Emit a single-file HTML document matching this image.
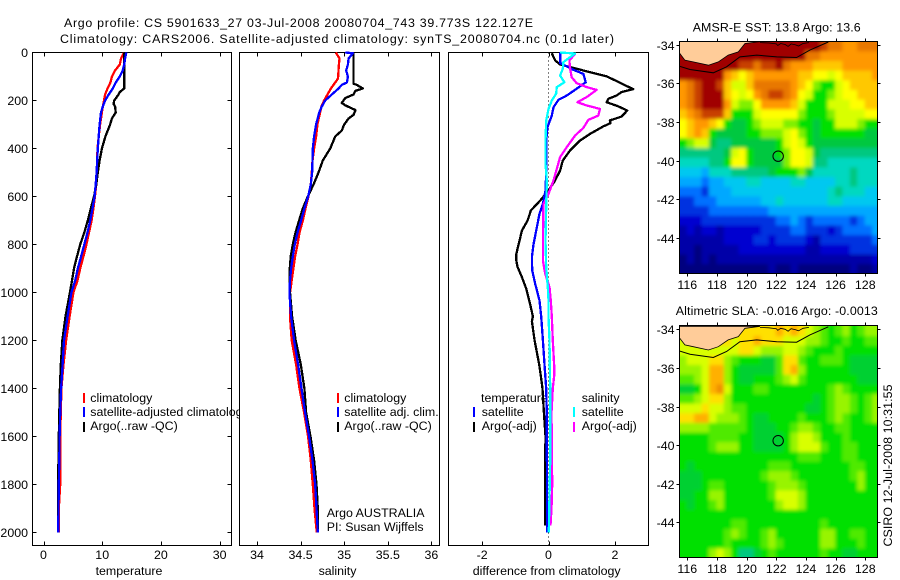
<!DOCTYPE html>
<html lang="en">
<head>
<meta charset="utf-8">
<title>Argo profile 5901633_27</title>
<style>
html,body{margin:0;padding:0;background:#fff;}
svg{display:block;}
text{font-family:"Liberation Sans",Arial,sans-serif;font-size:12.4px;fill:#000;}
.axis-box{fill:#fff;stroke:#000;stroke-width:1;shape-rendering:crispEdges;}
.tick{stroke:#000;stroke-width:1;shape-rendering:crispEdges;}
.swatch{stroke-width:2;shape-rendering:crispEdges;}
.profile{fill:none;stroke-width:2.3;stroke-linejoin:round;shape-rendering:crispEdges;}
</style>
</head>
<body>
<svg id="chart" xmlns="http://www.w3.org/2000/svg" width="900" height="580" viewBox="0 0 900 580">
  <defs>
    <filter id="soft" x="-5%" y="-5%" width="110%" height="110%"><feGaussianBlur stdDeviation="1.9"/></filter>
    <clipPath id="clip-sst"><rect x="679.5" y="41.5" width="198" height="232"/></clipPath>
    <clipPath id="clip-sla"><rect x="679.5" y="325.5" width="198" height="232"/></clipPath>
  </defs>
  <rect width="900" height="580" fill="#fff"/>

  <text x="64" y="27" textLength="469" lengthAdjust="spacing">Argo profile: CS 5901633_27 03-Jul-2008 20080704_743 39.773S 122.127E</text>
  <text x="60" y="43" textLength="554" lengthAdjust="spacing">Climatology: CARS2006. Satellite-adjusted climatology: synTS_20080704.nc (0.1d later)</text>

  <g id="panel-temp">
    <rect class="axis-box" x="32.5" y="52.5" width="199" height="493"/>
    <g id="temp-layer"></g>
    <g>
      <line class="swatch" x1="84" x2="84" y1="393" y2="403" stroke="#f00"/>
      <text x="90.3" y="402">climatology</text>
      <line class="swatch" x1="84" x2="84" y1="407" y2="417" stroke="#00f"/>
      <text x="90.3" y="416">satellite-adjusted climatology</text>
      <line class="swatch" x1="84" x2="84" y1="422" y2="432" stroke="#000"/>
      <text x="90.3" y="430">Argo(..raw -QC)</text>
    </g>
    <text x="129" y="575" text-anchor="middle">temperature</text>
  </g>

  <g id="panel-sal">
    <rect class="axis-box" x="239.5" y="52.5" width="200" height="493"/>
    <g id="sal-layer"></g>
    <g>
      <line class="swatch" x1="338" x2="338" y1="393" y2="403" stroke="#f00"/>
      <text x="344.3" y="402">climatology</text>
      <line class="swatch" x1="338" x2="338" y1="407" y2="417" stroke="#00f"/>
      <text x="344.3" y="416">satellite adj. clim.</text>
      <line class="swatch" x1="338" x2="338" y1="422" y2="432" stroke="#000"/>
      <text x="344.3" y="430">Argo(..raw -QC)</text>
    </g>
    <text x="326.7" y="517">Argo AUSTRALIA</text>
    <text x="326.7" y="531">PI: Susan Wijffels</text>
    <text x="337.5" y="575" text-anchor="middle">salinity</text>
  </g>

  <g id="panel-diff">
    <rect class="axis-box" x="448.5" y="52.5" width="200" height="493"/>
    <g>
      <text x="481" y="402">temperature</text>
      <line class="swatch" x1="474" x2="474" y1="407" y2="417" stroke="#00f"/>
      <text x="481.7" y="416">satellite</text>
      <line class="swatch" x1="474" x2="474" y1="422" y2="432" stroke="#000"/>
      <text x="481.7" y="430">Argo(-adj)</text>
      <text x="581.7" y="402">salinity</text>
      <line class="swatch" x1="574" x2="574" y1="407" y2="417" stroke="#0ff"/>
      <text x="581.7" y="416">satellite</text>
      <line class="swatch" x1="574" x2="574" y1="422" y2="432" stroke="#f0f"/>
      <text x="581.7" y="430">Argo(-adj)</text>
    </g>
    <g id="diff-layer"></g>
    <text x="546.7" y="575" text-anchor="middle">difference from climatology</text>
  </g>

  <g id="map-sst"></g>
  <text x="776.7" y="31.5" text-anchor="middle" textLength="168" lengthAdjust="spacing">AMSR-E SST: 13.8 Argo: 13.6</text>
  <g id="map-sla"></g>
  <text x="776.8" y="315" text-anchor="middle" textLength="202" lengthAdjust="spacing">Altimetric SLA: -0.016 Argo: -0.0013</text>
  <text transform="translate(892 546.5) rotate(-90)" textLength="162" lengthAdjust="spacing">CSIRO 12-Jul-2008 10:31:55</text>
</svg>
<script>
// ---- tick values ----
const depthTicks = [0,200,400,600,800,1000,1200,1400,1600,1800,2000];
const tempTicks = [0,10,20,30];
const salTicks = [34,34.5,35,35.5,36];
const diffTicks = [-2,0,2];
const lonTicks = [116,118,120,122,124,126,128];
const latTicks = [-34,-36,-38,-40,-42,-44];

// ---- temperature profiles ----
const tempClimDepth = [0,25,50,75,100,125,150,175,200,225,250,300,350,400,450,500,550,600,650,700,750,800,850,900,950,1000,1100,1200,1300,1400,1500,1600,1700,1800,1900,2000];
const tempClim = [13.75,13.2,13.0,12.2,11.65,11.4,10.9,10.5,10.3,10.1,9.95,9.65,9.4,9.2,9.15,9.1,9.0,8.75,8.5,8.2,7.75,7.3,6.8,6.25,5.8,5.1,4.45,3.85,3.4,3.05,2.95,2.85,2.85,2.85,2.6,2.6];
const tempSatDepth = tempClimDepth;
const tempSat = [14.1,13.9,13.75,13.5,13,12.3,11.8,11.1,10.5,10.1,9.8,9.55,9.4,9.25,9.15,9.05,8.9,8.7,8.35,7.95,7.5,6.95,6.4,5.85,5.4,4.75,4.1,3.5,3.25,3.0,2.85,2.75,2.7,2.6,2.55,2.5];
const tempArgoDepth = [0,150,165,175,200,215,225,250,275,300,350,400,450,500,550,600,650,700,750,800,850,900,950,1000,1100,1200,1300,1400,1500,1600,1700,1800,1900,2000];
const tempArgo = [13.75,13.75,13,12.8,12.05,11.95,12.2,12.3,11.65,11.35,10.55,9.95,9.55,9.25,9,8.6,8.05,7.55,6.95,6.25,5.7,5.2,4.85,4.5,3.75,3.2,2.95,2.8,2.7,2.6,2.55,2.45,2.45,2.45];

// ---- salinity profiles ----
const salClimDepth = [0,25,50,75,100,110,125,150,175,200,225,250,300,350,400,450,500,550,600,650,700,750,800,850,900,950,1000,1100,1200,1300,1400,1500,1600,1700,1800,1900,2000];
const salClim = [34.904,34.946,34.939,34.935,34.931,34.927,34.897,34.847,34.808,34.77,34.739,34.724,34.693,34.678,34.655,34.636,34.628,34.617,34.59,34.556,34.525,34.487,34.464,34.437,34.418,34.398,34.379,34.379,34.398,34.448,34.487,34.54,34.586,34.617,34.64,34.659,34.686];
const salSatDepth = [0,3,25,50,75,100,125,135,150,175,200,225,250,300,350,400,450,500,550,600,650,700,750,800,850,900,950,1000,1100,1200,1300,1400,1500,1600,1700,1800,1900,2000];
const salSat = [35.011,35.1,35.05,35.042,35.023,35.042,35.031,34.973,34.935,34.858,34.782,34.743,34.713,34.678,34.655,34.64,34.636,34.632,34.617,34.586,34.544,34.506,34.464,34.433,34.41,34.391,34.379,34.372,34.391,34.425,34.471,34.51,34.552,34.598,34.636,34.667,34.682,34.697];
const salArgoDepth = [0,130,135,150,160,175,190,210,220,240,260,275,300,325,350,400,450,500,550,600,650,700,750,800,850,900,950,1000,1100,1200,1300,1400,1500,1600,1700,1800,1900,2000];
const salArgo = [35.107,35.107,35.146,35.215,35.126,35.107,35.011,34.973,35.011,35.13,35.107,35.05,35.0,34.973,34.897,34.839,34.755,34.705,34.648,34.582,34.525,34.483,34.441,34.41,34.387,34.376,34.372,34.379,34.402,34.444,34.502,34.544,34.563,34.613,34.655,34.682,34.697,34.701];

// ---- differences from climatology ----
const diffTempArgoDepth = [3,33,50,64,82,99,119,153,165,179,193,207,224,242,267,283,294,308,339,367,408,450,492,533,575,617,658,700,742,783,839,867,894,936,985,1050,1100,1120,1200,1300,1350,1400,1500,1600,1700,1800,1970];
const diffTempArgo = [0.1,0.2,0.35,0.75,1.25,1.75,2.05,2.55,2.2,2.05,1.8,1.75,2.1,2.37,2.2,1.85,1.87,1.65,1.25,0.95,0.65,0.43,0.35,0.2,0,-0.25,-0.53,-0.63,-0.8,-0.87,-0.97,-0.97,-0.93,-0.8,-0.67,-0.55,-0.47,-0.5,-0.42,-0.28,-0.23,-0.18,-0.14,-0.09,-0.1,-0.1,-0.1];
const diffTempSatDepth = [0,44,72,89,124,151,179,197,228,263,311,367,506,575,631,672,742,797,853,908,964,1033,1100,1200,1300,1400,1500,1600,2000];
const diffTempSat = [0.35,0.35,0.75,1.05,1.12,0.85,0.55,0.3,0.15,0.1,-0.03,-0.07,-0.07,-0.09,-0.17,-0.27,-0.37,-0.45,-0.5,-0.49,-0.4,-0.27,-0.22,-0.17,-0.12,-0.07,-0.05,-0.05,-0.04];
const diffSalArgoDepth = [6,33,68,103,128,144,156,186,207,221,235,263,281,314,346,394,436,485,533,589,631,783,867,922,978,1033,1100,1200,1300,1350,1400,1500,1800,1900,1970];
const diffSalArgo = [0.8,0.63,0.65,0.7,0.85,1.15,1.45,1.15,0.87,1.15,1.55,1.5,1.2,1.05,0.8,0.55,0.35,0.25,0.15,0,-0.15,-0.17,-0.17,-0.1,0.03,0.07,0.1,0.13,0.17,0.17,0.13,0.09,0.11,0.09,0.06];
const diffSalSatDepth = [0,4,40,68,96,124,144,172,200,235,283,367,464,533,644,783,894,978,1033,1100,1200,1400,1700,2000];
const diffSalSat = [0.35,0.8,0.45,0.43,0.35,0.48,0.25,0.23,0.1,0,-0.07,-0.09,-0.09,-0.05,-0.07,-0.09,-0.07,-0.02,0,0,0.03,0.05,0.05,0.01];

// ---- map colour levels (0 coldest/lowest ... 18 warmest/highest), null = land ----
const N = null;
const sstRows = [
[N,N,N,N,N,N,N,N,N,18,18,18,18,18,18,18,18,18,18,17,16,16,15,15,16,16,16],
[18,N,N,N,N,N,N,18,18,18,18,18,18,18,18,18,18,16,16,15,15,15,15,15,15,15,15],
[18,18,18,18,18,18,18,18,17,17,16,17,17,18,16,15,15,15,14,14,14,14,15,15,15,15,15],
[18,18,18,18,18,18,15,14,13,14,15,15,15,15,15,15,14,14,13,13,12,13,14,14,14,14,15],
[15,16,17,18,18,17,14,12,12,14,16,16,16,16,16,15,14,13,11,10,10,12,13,14,14,14,14],
[15,16,17,18,18,18,14,13,12,13,15,16,17,17,16,15,13,12,10,10,11,12,13,13,14,14,14],
[15,16,17,18,18,18,15,12,11,11,13,15,15,15,15,14,12,10,10,10,12,12,12,13,13,14,14],
[14,15,16,17,17,17,14,10,10,10,12,13,13,13,13,13,11,10,10,10,11,12,12,12,12,13,13],
[13,14,15,15,14,13,10,9,9,10,11,12,12,12,11,11,10,10,9,10,10,12,12,12,11,10,10],
[13,14,15,14,10,9,9,9,9,10,10,11,11,11,12,13,11,10,9,10,10,10,10,10,10,9,9],
[10,11,12,12,9,8,8,9,9,9,9,9,9,10,12,13,12,10,9,9,9,9,9,9,9,9,9],
[8,8,8,8,8,8,9,12,13,10,9,9,9,10,11,13,13,12,9,8,8,8,8,8,8,8,8],
[7,7,7,7,8,8,10,13,13,10,9,9,9,9,11,13,13,12,8,8,7,7,7,7,7,7,7],
[6,6,6,5,7,7,7,8,8,8,8,8,9,10,10,10,11,9,7,7,7,7,7,8,7,7,7],
[5,5,5,4,5,5,6,6,6,7,7,6,6,6,6,7,7,6,6,6,6,7,7,8,7,7,7],
[4,4,4,3,5,5,5,6,6,6,6,6,6,6,6,6,6,6,6,6,7,8,7,7,7,6,6],
[3,3,4,4,4,5,5,5,5,5,5,6,6,7,6,6,6,6,6,6,7,7,6,6,6,6,6],
[3,3,3,3,4,4,4,4,4,4,4,4,5,5,5,5,5,5,5,5,5,5,5,5,5,5,5],
[2,2,2,3,3,3,3,3,3,3,3,3,3,4,4,5,4,3,4,4,4,4,4,3,4,5,5],
[1,2,1,2,2,1,2,2,2,2,2,3,3,3,3,4,4,3,3,3,2,3,4,4,4,4,5],
[1,1,1,1,1,1,2,2,2,2,3,3,2,3,3,3,3,2,1,3,3,3,3,3,3,3,4],
[1,1,0,1,1,1,1,1,2,2,2,2,2,2,2,2,2,1,1,2,2,2,2,3,3,3,3],
[0,1,0,1,0,1,1,1,1,1,1,1,1,1,1,1,1,1,1,1,1,1,1,1,1,1,2],
[0,0,0,0,0,0,0,0,0,0,0,0,1,0,0,1,0,0,0,0,0,0,0,1,0,0,1]
];
const slaRows = [
[N,N,N,N,N,N,N,N,N,14,14,14,14,15,14,15,14,13,12,11,10,11,12,10,11,12,12],
[13,N,N,N,N,N,N,13,14,14,15,14,14,14,13,13,13,12,12,11,10,10,11,10,10,11,11],
[13,13,13,13,13,13,13,13,14,14,13,12,12,12,13,13,12,11,10,10,10,11,10,10,10,10,10],
[12,13,13,13,14,14,12,11,10,10,10,9,9,11,14,14,11,10,10,11,11,11,10,9,9,9,9],
[12,12,12,13,15,15,12,10,9,9,9,9,9,11,14,15,12,10,10,10,10,10,10,9,9,9,9],
[11,11,12,13,15,15,12,10,9,9,10,10,10,11,12,13,11,10,10,10,10,10,10,10,9,9,9],
[9,9,10,13,15,16,13,10,10,10,11,11,10,10,10,10,10,10,10,10,11,12,11,10,10,10,10],
[11,11,12,13,14,14,12,10,10,10,10,10,10,10,10,10,10,10,9,10,11,12,12,11,10,11,12],
[13,13,13,14,13,13,12,11,11,10,10,10,10,10,10,10,10,9,9,10,11,12,12,11,10,11,12],
[14,14,15,15,13,12,12,12,11,10,9,9,10,10,10,10,11,10,10,10,11,12,11,10,10,11,12],
[12,12,12,12,11,11,11,11,11,10,9,9,9,10,10,11,12,12,11,10,10,11,11,10,10,10,10],
[10,10,10,10,11,11,11,11,10,10,9,9,9,9,10,12,13,13,12,10,10,10,11,10,10,10,10],
[10,10,10,10,11,12,12,12,10,10,9,9,9,9,10,12,13,13,13,11,10,10,11,11,10,10,10],
[10,10,10,10,10,10,10,10,10,10,10,10,10,10,10,10,11,11,11,10,10,10,11,11,10,10,10],
[10,9,10,10,10,10,10,10,10,10,10,10,11,11,11,10,10,10,10,10,10,10,10,11,11,10,10],
[9,9,9,10,10,10,10,10,10,10,10,11,12,12,12,11,10,10,10,10,10,10,10,11,12,10,10],
[9,9,9,10,11,11,10,10,10,10,10,10,11,12,12,12,11,10,10,10,10,10,10,10,12,10,10],
[9,9,10,10,12,12,10,10,10,10,10,10,11,13,13,13,12,10,10,10,10,10,10,10,10,10,10],
[10,9,10,10,11,12,10,10,10,10,10,10,10,12,13,13,12,10,10,10,10,10,10,10,10,10,10],
[10,10,10,10,10,10,10,10,10,10,10,10,10,10,10,10,10,10,10,10,10,10,10,10,10,10,10],
[10,10,10,10,10,10,10,11,11,10,10,10,10,10,10,10,10,10,10,11,10,10,10,10,10,10,10],
[10,10,10,10,10,10,11,12,11,10,10,11,12,10,10,10,10,10,10,12,12,10,10,11,11,10,10],
[10,10,10,10,10,10,11,10,10,10,10,11,12,11,10,10,10,10,10,12,12,10,10,10,11,10,10],
[10,10,10,10,12,13,12,10,8,8,9,10,11,10,10,10,10,10,10,11,10,10,9,9,10,10,10]
];
const sstPalette = ['#00007f','#0000a8','#0000d0','#0030e0','#0070ff','#00a8ff','#00c8f0','#00d8c0','#00c880','#00c840','#00e000','#80f000','#d8ff00','#ffff00','#ffc800','#ff9800','#e87800','#c84000','#a00000'];
const slaPalette = ['#00007f','#0000a8','#0000d0','#0030e0','#0070ff','#00a8ff','#00c8f0','#00d8c0','#00c880','#00d030','#00e000','#50ea00','#98f400','#d8ff00','#ffe000','#ffb000','#f09000','#e87800','#c84000'];

// ---- coast and contour (degrees) ----
const landLon = [115.46,115.46,115.84,116.4,117.42,118.09,118.76,119.44,119.89,120.9];
const landLat = [-33.85,-34.43,-34.81,-34.9,-35.07,-34.9,-34.55,-34.38,-33.95,-33.85];
const coastEastLon = [120.9,121.5,122,122.1,122.3,122.6,122.8,123,123.3,123.5,123.8,124.2];
const coastEastLat = [-33.9,-33.92,-33.97,-34.05,-33.95,-34,-34.1,-33.97,-34.02,-34.08,-33.95,-33.9];
const contourLon = [115.46,116.18,117.75,118.65,119.55,120.68,122.03,123.37,124.27,125.51];
const contourLat = [-35.12,-35.29,-35.46,-35.15,-34.64,-34.55,-34.64,-34.67,-34.29,-33.87];
const floatLon = 122.127;
const floatLat = -39.773;

const SVGNS = 'http://www.w3.org/2000/svg';
function mk(tag, parent, attrs) {
  const el = document.createElementNS(SVGNS, tag);
  for (const k in attrs) el.setAttribute(k, attrs[k]);
  parent.appendChild(el);
  return el;
}

// axis functions
const yDepth = d => 52.5 + 0.24 * d;
const xTemp = t => 43.5 + 5.87 * t;
const xSal = s => 257 + 87.2 * (s - 34);
const xDiff = v => 548.5 + 33.2 * v;
const xLon = lon => 687.3 + 14.83 * (lon - 116);
const ySstLat = lat => 44.5 + 19.35 * (-34 - lat);
const ySlaLat = lat => 329.3 + 19.3 * (-34 - lat);

function drawProfile(layer, name, color, depths, values, xFn) {
  const pts = values.map((v, i) => xFn(v).toFixed(1) + ',' + yDepth(depths[i]).toFixed(1)).join(' ');
  const el = mk('polyline', layer, {points: pts, stroke: color, class: 'profile'});
  
  
}

function drawXTicks(layer, ticks, xFn, top, bottom, labelY, fmt) {
  ticks.forEach(t => {
    const x = Math.round(xFn(t)) + 0.5;
    const a = mk('line', layer, {class: 'tick', x1: x, x2: x, y1: bottom, y2: bottom - 4});
    
    
    const b = mk('line', layer, {class: 'tick', x1: x, x2: x, y1: top, y2: top + 4});
    
    
    const l = mk('text', layer, {x: xFn(t), y: labelY, 'text-anchor': 'middle'});
    
    
    l.textContent = fmt ? fmt(t) : t;
  });
}

// temperature panel
const tempLayer = document.getElementById('temp-layer');
drawXTicks(tempLayer, tempTicks, xTemp, 52.5, 545.5, 559);
depthTicks.forEach(d => {
  const y = Math.round(yDepth(d) - 0.5) + 0.5;
  const a = mk('line', tempLayer, {class: 'tick', x1: 32.5, x2: 36.5, y1: y, y2: y});
  
  
  const b = mk('line', tempLayer, {class: 'tick', x1: 227.5, x2: 231.5, y1: y, y2: y});
  
  
  const l = mk('text', tempLayer, {x: 28, y: y + 4.5, 'text-anchor': 'end'});
  
  
  l.textContent = d;
});
drawProfile(tempLayer, 'temperature-climatology-line', '#f00', tempClimDepth, tempClim, xTemp);
drawProfile(tempLayer, 'temperature-argo-line', '#000', tempArgoDepth, tempArgo, xTemp);
drawProfile(tempLayer, 'temperature-satellite-line', '#00f', tempSatDepth, tempSat, xTemp);

// salinity panel
const salLayer = document.getElementById('sal-layer');
drawXTicks(salLayer, salTicks, xSal, 52.5, 545.5, 559);
drawProfile(salLayer, 'salinity-climatology-line', '#f00', salClimDepth, salClim, xSal);
drawProfile(salLayer, 'salinity-argo-line', '#000', salArgoDepth, salArgo, xSal);
drawProfile(salLayer, 'salinity-satellite-line', '#00f', salSatDepth, salSat, xSal);

// difference panel
const diffLayer = document.getElementById('diff-layer');
drawXTicks(diffLayer, diffTicks, xDiff, 52.5, 545.5, 559, t => String(t));
const zeroLine = mk('line', diffLayer, {x1: xDiff(0), x2: xDiff(0), y1: 52.5, y2: 545.5, stroke: '#000', 'stroke-width': 1, 'stroke-dasharray': '1 3', 'shape-rendering': 'crispEdges'});


drawProfile(diffLayer, 'diff-temperature-argo-line', '#000', diffTempArgoDepth, diffTempArgo, xDiff);
drawProfile(diffLayer, 'diff-temperature-satellite-line', '#00f', diffTempSatDepth, diffTempSat, xDiff);
drawProfile(diffLayer, 'diff-salinity-argo-line', '#f0f', diffSalArgoDepth, diffSalArgo, xDiff);
drawProfile(diffLayer, 'diff-salinity-satellite-line', '#0ff', diffSalSatDepth, diffSalSat, xDiff);

// maps
function drawMap(groupId, rows, palette, shoreLevel, yLat, clipId, top, bottom, labelY, prefix) {
  const g = document.getElementById(groupId);
  const left = 679.5, right = 877.5;
  const clipped = mk('g', g, {'clip-path': 'url(#' + clipId + ')'});
  
  
  const base = mk('rect', clipped, {x: left, y: top, width: right - left, height: bottom - top, fill: palette[shoreLevel]});
  
  
  const cells = mk('g', clipped, {filter: 'url(#soft)'});
  
  
  const lon0 = 115.46, lat0 = -33.85, step = 0.5;
  rows.forEach((row, i) => {
    row.forEach((v, j) => {
      if (v === null) return;
      let x1 = xLon(lon0 + j * step), x2 = xLon(lon0 + (j + 1) * step);
      let y1 = yLat(lat0 - i * step), y2 = yLat(lat0 - (i + 1) * step);
      if (j === 0) x1 -= 8;
      if (j === row.length - 1) x2 += 8;
      if (i === 0) y1 -= 8;
      if (i === rows.length - 1) y2 += 8;
      const c = mk('rect', cells, {x: x1.toFixed(2), y: y1.toFixed(2), width: (x2 - x1 + 0.4).toFixed(2), height: (y2 - y1 + 0.4).toFixed(2), fill: palette[v]});
      
      
    });
  });
  const landPts = landLon.map((lon, i) => xLon(lon).toFixed(1) + ',' + yLat(landLat[i]).toFixed(1)).join(' ');
  const land = mk('polygon', clipped, {points: landPts, fill: '#ffcc99', stroke: '#000', 'stroke-width': 0.8});
  
  
  const eastPts = coastEastLon.map((lon, i) => xLon(lon).toFixed(1) + ',' + yLat(coastEastLat[i]).toFixed(1)).join(' ');
  const east = mk('polyline', clipped, {points: eastPts, fill: 'none', stroke: '#000', 'stroke-width': 0.8});
  
  
  const contPts = contourLon.map((lon, i) => xLon(lon).toFixed(1) + ',' + yLat(contourLat[i]).toFixed(1)).join(' ');
  const cont = mk('polyline', clipped, {points: contPts, fill: 'none', stroke: '#000', 'stroke-width': 1});
  
  
  const frame = mk('rect', g, {x: left, y: top, width: right - left, height: bottom - top, fill: 'none', stroke: '#000', 'stroke-width': 1, 'shape-rendering': 'crispEdges'});
  
  
  const marker = mk('circle', g, {cx: xLon(floatLon), cy: yLat(floatLat), r: 5.2, fill: 'none', stroke: '#000', 'stroke-width': 1});
  
  
  lonTicks.forEach(lon => {
    const x = Math.round(xLon(lon)) + 0.5;
    const a = mk('line', g, {class: 'tick', x1: x, x2: x, y1: top - 3, y2: top});
    
    
    const b = mk('line', g, {class: 'tick', x1: x, x2: x, y1: bottom, y2: bottom + 3});
    
    
    const l = mk('text', g, {x: xLon(lon), y: labelY, 'text-anchor': 'middle'});
    
    
    l.textContent = lon;
  });
  latTicks.forEach(lat => {
    const y = Math.round(yLat(lat)) + 0.5;
    const a = mk('line', g, {class: 'tick', x1: left - 3, x2: left, y1: y, y2: y});
    
    
    const b = mk('line', g, {class: 'tick', x1: right, x2: right + 3, y1: y, y2: y});
    
    
    const l = mk('text', g, {x: 674.5, y: y + 4.5, 'text-anchor': 'end'});
    
    
    l.textContent = lat;
  });
}
drawMap('map-sst', sstRows, sstPalette, 18, ySstLat, 'clip-sst', 41.5, 273.5, 289, 'sst');
drawMap('map-sla', slaRows, slaPalette, 14, ySlaLat, 'clip-sla', 325.5, 557.5, 573, 'sla');
</script>
</body>
</html>
